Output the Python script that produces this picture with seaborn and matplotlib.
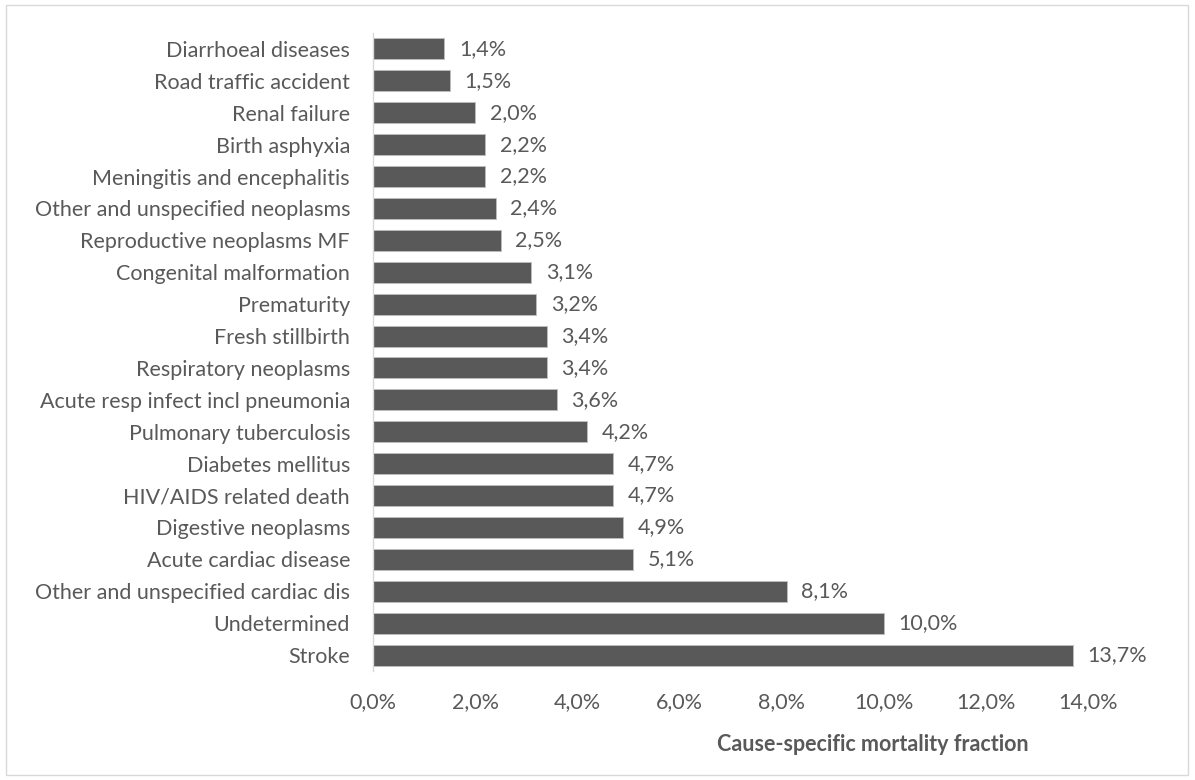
import matplotlib
matplotlib.use("Agg")
import matplotlib.pyplot as plt
from matplotlib.patches import Rectangle
from matplotlib.ticker import FuncFormatter
import seaborn as sns
import pandas as pd

causes = [
    "Diarrhoeal diseases", "Road traffic accident", "Renal failure", "Birth asphyxia",
    "Meningitis and encephalitis", "Other and unspecified neoplasms",
    "Reproductive neoplasms MF", "Congenital malformation", "Prematurity",
    "Fresh stillbirth", "Respiratory neoplasms", "Acute resp infect incl pneumonia",
    "Pulmonary tuberculosis", "Diabetes mellitus", "HIV/AIDS related death",
    "Digestive neoplasms", "Acute cardiac disease", "Other and unspecified cardiac dis",
    "Undetermined", "Stroke",
]
csmf = [1.4, 1.5, 2.0, 2.2, 2.2, 2.4, 2.5, 3.1, 3.2, 3.4, 3.4, 3.6, 4.2, 4.7, 4.7,
        4.9, 5.1, 8.1, 10.0, 13.7]
x_ticks = [0, 2, 4, 6, 8, 10, 12, 14]

sns.set_theme(style="white")
plt.rcParams["font.family"] = ["Lato", "DejaVu Sans"]

text_col = "#595959"
bar_col = "#595959"
fs = 15.5

df = pd.DataFrame({"cause": causes, "csmf": csmf})

fig = plt.figure(figsize=(11.95, 7.8), dpi=100)
ax = fig.add_axes([0.3121, 0.1397, 0.5984, 0.818])

sns.barplot(data=df, x="csmf", y="cause", order=causes, color=bar_col,
            width=0.66, saturation=1, ax=ax, edgecolor="#bfbfbf", linewidth=0.6)

ax.set_xlim(0, 14)
ax.set_xticks(x_ticks)
ax.xaxis.set_major_formatter(FuncFormatter(lambda v, p: f"{v:.1f}%".replace(".", ",")))
ax.set_ylim(len(causes) - 0.5, -0.5)

labels = [f"{v:.1f}%".replace(".", ",") for v in csmf]
ax.bar_label(ax.containers[0], labels=labels, padding=10.5, fontsize=fs, color=text_col)

ax.tick_params(axis="x", length=0, pad=15.5, labelsize=fs, labelcolor=text_col)
ax.tick_params(axis="y", length=0, pad=16.5, labelsize=fs, labelcolor=text_col)
ax.set_xlabel("")
ax.set_ylabel("")

for side in ["top", "right", "bottom"]:
    ax.spines[side].set_visible(False)
ax.spines["left"].set_color("#d9d9d9")
ax.spines["left"].set_linewidth(1.0)

fig.text(0.73, 0.045, "Cause-specific mortality fraction", ha="center", va="center",
         fontsize=15.5, fontweight="bold", color=text_col)

fig.patches.append(Rectangle((0.005, 0.006), 0.989, 0.988, transform=fig.transFigure,
                             fill=False, edgecolor="#d9d9d9", linewidth=1.0))

fig.savefig("out.png", dpi=100)
